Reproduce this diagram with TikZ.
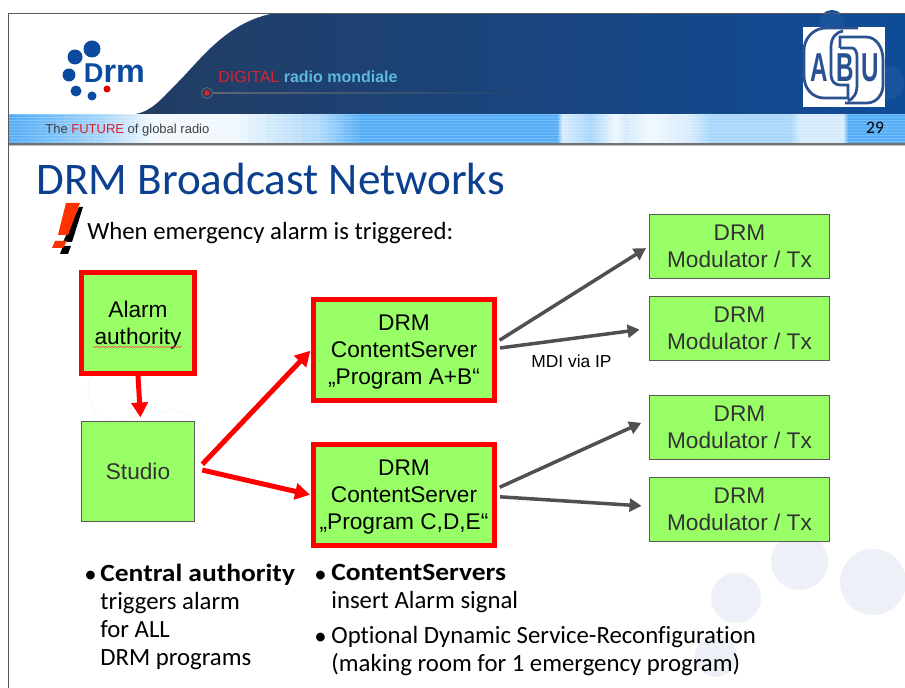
\documentclass[tikz,border=0pt]{standalone}
\usepackage{fontspec}
\setmainfont{Carlito}[Ligatures={NoCommon},BoldFeatures={FakeStretch=1.11}]
\newfontfamily\arialfont{Liberation Sans}
\usepackage{tikz}
\usetikzlibrary{arrows.meta,decorations.pathmorphing}
\definecolor{boxgreen}{HTML}{99FF66}
\definecolor{boxred}{HTML}{FF0000}
\definecolor{arrowgray}{HTML}{505050}
\definecolor{titleblue}{HTML}{0B3F8F}
\definecolor{paleblue}{HTML}{EDF1F7}
\definecolor{navyleft}{HTML}{263A5A}
\definecolor{navyright}{HTML}{0F4C98}
\definecolor{stripblue}{HTML}{55ADF5}
\definecolor{stripsoft}{HTML}{6FBAF7}
\definecolor{stripmid}{HTML}{A8D6FA}
\definecolor{striplite}{HTML}{D5EBFD}
\definecolor{stripwhite}{HTML}{F0F8FE}
\definecolor{logoblue}{HTML}{0B4A9E}
\definecolor{abublue}{HTML}{2A5190}
\definecolor{digitalred}{HTML}{D9232E}
\definecolor{radiocyan}{HTML}{5DB8E0}
\definecolor{alertred}{HTML}{FF3300}
\tikzset{
    greenbox/.style  = {rectangle,fill=boxgreen,align=center,inner sep=0pt,text depth=0pt,font=\arialfont\fontsize{12.9}{15.4}\selectfont},
    modbox/.style    = {greenbox,draw=black!65,line width=0.2mm,text=black!80,minimum width=3.62cm,minimum height=1.3cm},
    studiobox/.style = {greenbox,draw=black!65,line width=0.2mm,text=black!80,minimum width=2.28cm,minimum height=2.02cm},
    alarmbox/.style  = {greenbox,draw=boxred,line width=1mm,minimum width=2.26cm,minimum height=2.02cm},
    serverbox/.style = {greenbox,draw=boxred,line width=1mm,minimum width=3.62cm,minimum height=2.02cm},
    redarrow/.style  = {draw=boxred,line width=1mm,-{Triangle[length=3mm,width=3.2mm]}},
    grayarrow/.style = {draw=arrowgray,line width=0.7mm,-{Triangle[length=2.4mm,width=2.6mm]}},
    bodytext/.style  = {anchor=west,align=left,inner sep=0pt,font=\fontsize{14.1}{15.8}\selectfont},
    backdot/.style   = {circle,fill=paleblue,inner sep=0pt},
    logodot/.style   = {circle,fill=logoblue,inner sep=0pt},
}

\begin{document}
\begin{tikzpicture}[x=0.02cm,y=-0.02cm]
    \useasboundingbox (0,0) rectangle (905,688);
    \fill [white] (0,0) rectangle (905,688);

    \node [backdot,minimum size=1.32cm] (dotA) at (873,582) {};
    \node [backdot,minimum size=1.14cm] (dotB) at (799.5,561.5) {};
    \node [backdot,minimum size=1cm]    (dotC) at (736,598) {};
    \node [backdot,minimum size=.84cm]  (dotD) at (716,656) {};
    \draw [black!4] (118,391) circle (30);
    \draw [black!4] (172,440) circle (30);

    \begin{scope}
        \shade [left color=navyleft,right color=navyright] (9,14) rectangle (905,114);
        \fill [white] (9,14) -- (270,14) .. controls (225,24) and (200,60) .. (178,82)
            .. controls (160,100) and (152,111) .. (135,114) -- (9,114) -- cycle;
        \fill [navyright!96!white] (832,23) circle (13);
        \fill [navyright!96!white] (887,83) circle (17);

        \foreach \xa/\xb/\ca/\cb in {9/40/stripblue/stripsoft,40/100/stripsoft/stripmid,100/150/stripmid/stripwhite,
                150/230/stripwhite/stripwhite,230/320/stripwhite/stripmid,320/360/stripmid/stripblue,
                360/557/stripblue/stripblue,557/562/stripblue/striplite,562/590/striplite/stripmid,
                590/615/stripmid/stripwhite,615/625/stripwhite/striplite,625/650/striplite/stripwhite,
                650/690/stripwhite/striplite,690/710/striplite/stripmid,710/790/stripmid/stripmid,
                790/800/stripmid/striplite,800/843/striplite/striplite,843/848/striplite/stripblue,
                848/905/stripblue/stripblue}
            \foreach \mixpart in {0,10,...,90} {
                \pgfmathsetmacro{\xleft}{\xa+(\xb-\xa)*(\mixpart/100)}
                \pgfmathsetmacro{\xright}{\xa+(\xb-\xa)*((\mixpart+10)/100)}
                \fill [\cb!\mixpart!\ca] (\xleft,114) rectangle (\xright+0.3,143);
            }
        \foreach \stripy in {115,118,...,142}
            \draw [white,opacity=0.2,line width=0.2mm] (9,\stripy) -- (905,\stripy);
        \fill [black!55] (9,143) rectangle (905,145);
        \fill [black!25] (9,145) rectangle (905,146.5);

        \draw [black!65,line width=0.2mm] (8.5,688) -- (8.5,14) -- (905,14);
    \end{scope}

    \node [logodot,minimum size=.34cm] (logoA) at (92,49) {};
    \node [logodot,minimum size=.30cm] (logoB) at (75,57) {};
    \node [logodot,minimum size=.26cm] (logoC) at (69,75) {};
    \node [logodot,minimum size=.22cm] (logoD) at (76,91) {};
    \node [logodot,minimum size=.18cm] (logoE) at (92,96) {};
    \node [logodot,fill=red!90!black,minimum size=.14cm] (logoF) at (107,89) {};
    \node [anchor=west,inner sep=0pt,text=logoblue,font=\arialfont\bfseries\fontsize{18.4}{18}\selectfont] (logoname) at (83.5,73.5) {{\fontsize{15.5}{15}\selectfont D}rm};

    \node [anchor=west,inner sep=0pt,font=\arialfont\fontsize{9.1}{11}\selectfont] (slogan) at (218,77)
        {\textcolor{digitalred}{DIGITAL} \textcolor{radiocyan}{\bfseries radio mondiale}};
    \shade [left color=black!35!navyleft!70!white,right color=navyleft!60!navyright] (207,92.5) rectangle (540,93.5);
    \draw [black!35!navyleft!70!white,fill=navyleft,line width=0.2mm] (207,93) circle (5.5);
    \fill [digitalred] (207,93) circle (2.8);
    \node [anchor=west,inner sep=0pt,text=black!75,font=\arialfont\fontsize{7.4}{9}\selectfont] (tagline) at (45,130.5)
        {The \textcolor{digitalred}{FUTURE} of global radio};
    \node [inner sep=0pt,font=\fontsize{10}{12}\selectfont] (pagenum) at (875,128) {29};

    \fill [white] (803,27) rectangle (885,107);
    \begin{scope}[abublue,line width=0.55mm]
        \draw (858,28) -- (826,28) .. controls (813,28) and (804,39) .. (804,50) -- (804,76)
            .. controls (804,89) and (813,98) .. (824,98) -- (848,98) -- (848,85) -- (840,85)
            .. controls (835,85) and (831,81) .. (831,75) -- (831,47) .. controls (831,38) and (836,32) .. (843,31);
        \draw (840,48) -- (852,48) .. controls (855,48) and (857,52) .. (857,57) -- (857,85)
            .. controls (857,94) and (853,99) .. (848,101);
        \draw (840,48) -- (840,37) -- (866,37) .. controls (876,37) and (883,47) .. (883,60) -- (883,85)
            .. controls (883,95) and (876,103) .. (867,103) -- (845,103);
    \end{scope}
    \foreach \abuname/\abux/\abuletter in {abuA/819/A,abuB/845/B,abuU/870/U}
        \node [inner sep=0pt,xscale=0.6,text=abublue,font=\arialfont\bfseries\fontsize{23}{23}\selectfont] (\abuname) at (\abux,67.5) {\abuletter};

    \node [anchor=west,inner sep=0pt,text=titleblue,font=\fontsize{25.7}{30}\selectfont] (title) at (36,178.5) {DRM Broadcast Networks};

    \fill [black] (79,207) -- (83,207) -- (72,242) -- (63,242) -- cycle;
    \fill [black] (63,246) -- (71,246) -- (68,254) -- (60,254) -- cycle;
    \fill [alertred] (66,203) -- (80,203) -- (68,235) -- (58,235) -- cycle;
    \fill [alertred] (55,241) -- (67,241) -- (63,248) -- (52,248) -- cycle;
    \node [bodytext] (headline) at (87,233) {When emergency alarm is triggered:};

    \node [alarmbox]  (alarm)  at (138,323) {Alarm\\authority};
    \draw [red!70,line width=0.1mm,decorate,decoration={snake,amplitude=0.15mm,segment length=0.6mm}] (93,347) -- (182,347);
    \node [studiobox] (studio) at (138,471.5) {Studio};
    \node [serverbox] (csA)    at (404,350) {DRM\\ContentServer\\„Program A+B“};
    \node [serverbox] (csB)    at (404,495) {DRM\\ContentServer\\„Program C,D,E“};
    \node [modbox]    (modA)   at (739.5,246.5) {DRM\\Modulator / Tx};
    \node [modbox]    (modB)   at (739.5,328.5) {DRM\\Modulator / Tx};
    \node [modbox]    (modC)   at (739.5,427.5) {DRM\\Modulator / Tx};
    \node [modbox]    (modD)   at (739.5,509.5) {DRM\\Modulator / Tx};

    \draw [redarrow,shorten >=0.06cm] (alarm.south) -- (studio.87);
    \draw [redarrow,shorten <=0.2cm,shorten >=0.02cm] (studio.east) -- (csA.west);
    \draw [redarrow,shorten <=0.14cm,shorten >=0.02cm] (studio.3) -- (csB.west);
    \draw [grayarrow,shorten <=0.06cm,shorten >=0.06cm] (csA.5) -- (modA.west);
    \draw [grayarrow,shorten <=0.06cm,shorten >=0.18cm] (csA.1) -- (modB.west);
    \draw [grayarrow,shorten <=0.06cm,shorten >=0.16cm] (csB.4) -- (modC.175);
    \draw [grayarrow,shorten <=0.06cm,shorten >=0.14cm] (csB.359) -- (modD.178);
    \node [anchor=west,inner sep=0pt,font=\arialfont\fontsize{9.9}{12}\selectfont] (mdi) at (531,361.5) {MDI via IP};

    \node [bodytext] (bulletA) at (84,577) {•};
    \node [bodytext,anchor=north west] (central) at (100,564) {\textbf{Central authority}\\triggers alarm\\for ALL\\DRM programs};
    \node [bodytext] (bulletB) at (314,577) {•};
    \node [bodytext,anchor=north west] (servers) at (331,564) {\textbf{ContentServers}\\insert Alarm signal};
    \node [bodytext] (bulletC) at (314,639) {•};
    \node [bodytext,anchor=north west] (optional) at (331,626) {Optional Dynamic Service-Reconfiguration\\(making room for 1 emergency program)};
\end{tikzpicture}
\end{document}
